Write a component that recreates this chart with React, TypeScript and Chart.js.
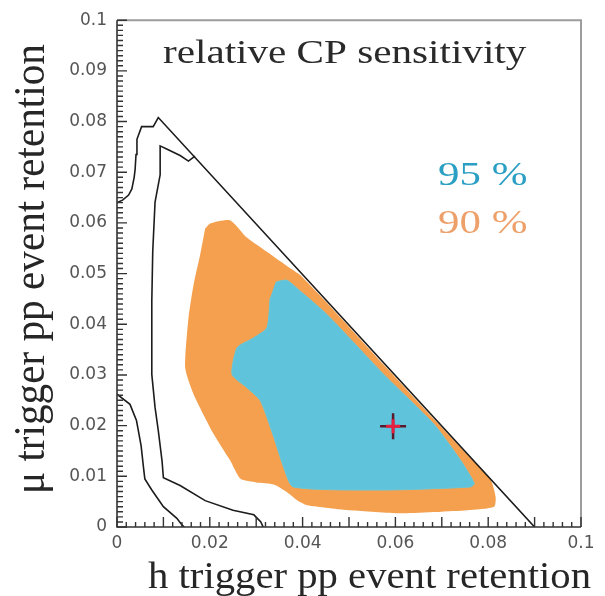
import React, { useEffect, useRef } from "react";
import { Chart, registerables } from "chart.js";

Chart.register(...registerables);

// Axis ticks and labels
const xTickValues = [0, 0.02, 0.04, 0.06, 0.08, 0.1];
const xTickLabels = ["0", "0.02", "0.04", "0.06", "0.08", "0.1"];
const yTickValues = [0, 0.01, 0.02, 0.03, 0.04, 0.05, 0.06, 0.07, 0.08, 0.09, 0.1];
const yTickLabels = ["0", "0.01", "0.02", "0.03", "0.04", "0.05", "0.06", "0.07", "0.08", "0.09", "0.1"];

// 90 % region (h retention, mu retention)
const region90: [number, number][] = [
  [0.019, 0.0589], [0.0201, 0.0599], [0.0244, 0.0605], [0.028, 0.0571], [0.0323, 0.0543],
  [0.0374, 0.051], [0.0395, 0.0497], [0.0474, 0.0421], [0.0575, 0.032], [0.0683, 0.0213],
  [0.0762, 0.0136], [0.0805, 0.0094], [0.0816, 0.0059], [0.0813, 0.004], [0.0755, 0.0033],
  [0.0611, 0.0027], [0.0503, 0.0033], [0.041, 0.0043], [0.0388, 0.0053], [0.0366, 0.0069],
  [0.0338, 0.0084], [0.03, 0.0088], [0.0266, 0.0095], [0.0244, 0.0131], [0.0208, 0.0184],
  [0.0165, 0.0262], [0.0147, 0.0314], [0.0154, 0.0412], [0.0165, 0.0478], [0.0179, 0.0536],
];

// 95 % region
const region95: [number, number][] = [
  [0.0341, 0.0481], [0.0345, 0.0484], [0.0366, 0.0487], [0.0388, 0.0471], [0.0453, 0.0419],
  [0.0575, 0.0301], [0.0683, 0.0203], [0.0741, 0.0131], [0.077, 0.0086], [0.0762, 0.0079],
  [0.0575, 0.0073], [0.038, 0.0079], [0.0359, 0.0118], [0.0338, 0.0177], [0.0309, 0.0249],
  [0.028, 0.0275], [0.0248, 0.0301], [0.0259, 0.0354], [0.0294, 0.0373], [0.0323, 0.0393],
  [0.033, 0.0452],
];

// Outer contour, ending on the x + y = 0.09 boundary
const outerContour: [number, number][] = [
  [0, 0.064], [0.0012, 0.0645], [0.0025, 0.0655], [0.0032, 0.0667], [0.0037, 0.069],
  [0.0039, 0.0705], [0.0041, 0.0735], [0.0043, 0.0765], [0.0053, 0.079], [0.0078, 0.079],
  [0.0089, 0.0808], [0.09, 0],
];

// Inner contour
const innerContour: [number, number][] = [
  [0.0168, 0.0732], [0.0154, 0.0722], [0.0136, 0.0733], [0.0107, 0.0746], [0.0093, 0.0752],
  [0.0093, 0.0695], [0.0082, 0.0641], [0.0077, 0.0543], [0.0075, 0.0445], [0.0075, 0.0301],
  [0.0082, 0.0236], [0.0089, 0.019], [0.0097, 0.0131], [0.01, 0.0097], [0.0136, 0.0082],
  [0.019, 0.0052], [0.025, 0.0033], [0.0295, 0.0024], [0.031, 0.001], [0.0315, 0],
];

// Lower contour
const lowerContour: [number, number][] = [
  [0, 0.0262], [0.0028, 0.0242], [0.0042, 0.021], [0.0052, 0.016], [0.0057, 0.0118],
  [0.006, 0.0095], [0.0075, 0.0073], [0.01, 0.004], [0.0129, 0.0017], [0.014, 0.0004],
  [0.0145, 0],
];

// Best point
const bestPoint: [number, number][] = [[0.0595, 0.0199]];

const toXY = (pts: [number, number][]) => pts.map(([x, y]) => ({ x, y }));

const SERIF = '"Liberation Serif", "DejaVu Serif", serif';

function drawLabel(
  ctx: CanvasRenderingContext2D,
  text: string,
  x: number,
  y: number,
  size: number,
  color: string,
  sx: number,
  sy = 1,
  rotate = 0
) {
  ctx.save();
  ctx.translate(x, y);
  if (rotate) ctx.rotate(rotate);
  ctx.scale(sx, sy);
  ctx.font = `${size}px ${SERIF}`;
  ctx.fillStyle = color;
  ctx.textAlign = "left";
  ctx.textBaseline = "alphabetic";
  ctx.fillText(text, 0, 0);
  ctx.restore();
}

const framePlugin = {
  id: "frame",
  afterDraw(chart: any) {
    const ctx: CanvasRenderingContext2D = chart.ctx;
    const a = chart.chartArea;
    const xs = chart.scales.x;
    const ys = chart.scales.y;
    ctx.save();
    // top and right edges
    ctx.strokeStyle = "#9c9c9c";
    ctx.lineWidth = 2;
    ctx.beginPath();
    ctx.moveTo(a.left, a.top);
    ctx.lineTo(a.right, a.top);
    ctx.lineTo(a.right, a.bottom);
    ctx.stroke();
    // axes
    ctx.strokeStyle = "#333";
    ctx.lineWidth = 1.6;
    ctx.beginPath();
    ctx.moveTo(a.left, a.top);
    ctx.lineTo(a.left, a.bottom);
    ctx.lineTo(a.right, a.bottom);
    ctx.stroke();
    // inward tick marks
    ctx.lineWidth = 1.4;
    ctx.beginPath();
    for (let i = 0; i <= 100; i++) {
      const py = ys.getPixelForValue(i / 1000);
      const len = i % 10 === 0 ? 10 : 6;
      ctx.moveTo(a.left, py);
      ctx.lineTo(a.left + len, py);
    }
    for (let i = 0; i <= 50; i++) {
      const px = xs.getPixelForValue(i / 500);
      const len = i % 5 === 0 ? 10 : 5;
      ctx.moveTo(px, a.bottom);
      ctx.lineTo(px, a.bottom - len);
    }
    ctx.stroke();
    ctx.restore();

    // titles and annotations
    drawLabel(ctx, "relative CP sensitivity", 163, 63, 34, "#2a2a2a", 1.21);
    drawLabel(ctx, "95 %", 438, 185, 33, "#2a9fc3", 1.3);
    drawLabel(ctx, "90 %", 438, 233, 33, "#eea06a", 1.3);
    drawLabel(ctx, "h trigger pp event retention", 148, 588, 37, "#262626", 1.1);
    drawLabel(ctx, "\u03bc trigger pp event retention", 44, 494, 40, "#262626", 1.03, 1.12, -Math.PI / 2);
  },
};

export default function App() {
  const canvasRef = useRef<HTMLCanvasElement | null>(null);

  useEffect(() => {
    const canvas = canvasRef.current;
    if (!canvas) return;
    const line = (data: [number, number][], order: number) => ({
      data: toXY(data),
      showLine: true,
      borderColor: "#1c1c1c",
      borderWidth: 1.6,
      pointRadius: 0,
      fill: false,
      tension: 0,
      order,
    });
    const chart = new Chart(canvas, {
      type: "scatter",
      data: {
        datasets: [
          {
            data: toXY(region90),
            showLine: true,
            borderWidth: 0,
            borderColor: "#f4a04e",
            backgroundColor: "#f4a04e",
            pointRadius: 0,
            fill: "shape",
            tension: 0.2,
            order: 7,
          },
          {
            data: toXY(region95),
            showLine: true,
            borderWidth: 1,
            borderColor: "#6cc6d8",
            backgroundColor: "#5fc3db",
            pointRadius: 0,
            fill: "shape",
            tension: 0.2,
            order: 6,
          },
          line(outerContour, 5),
          line(innerContour, 4),
          line(lowerContour, 3),
          {
            // dark arms of the marker
            data: toXY(bestPoint),
            pointStyle: "cross",
            pointRadius: 13,
            pointBorderWidth: 2.5,
            pointBorderColor: "#5a1a2c",
            borderColor: "#5a1a2c",
            showLine: false,
            order: 1,
          },
          {
            // red centre of the marker
            data: toXY(bestPoint),
            pointStyle: "cross",
            pointRadius: 7,
            pointBorderWidth: 3,
            pointBorderColor: "#e8203f",
            borderColor: "#e8203f",
            showLine: false,
            order: 0,
          },
        ],
      } as any,
      options: {
        responsive: false,
        animation: false,
        layout: { padding: { top: 18, right: 24, left: 0, bottom: 0 } },
        plugins: {
          legend: { display: false },
          tooltip: { enabled: false },
        },
        scales: {
          x: {
            type: "linear",
            min: 0,
            max: 0.1,
            grid: { display: false, drawTicks: false },
            border: { display: false },
            afterBuildTicks: (scale: any) => {
              scale.ticks = xTickValues.map((value) => ({ value }));
            },
            afterFit: (scale: any) => {
              scale.height = 69;
            },
            ticks: {
              autoSkip: false,
              maxRotation: 0,
              padding: 6,
              color: "#555",
              font: { family: '"DejaVu Sans", sans-serif', size: 17 },
              callback: (_v: any, i: number) => xTickLabels[i],
            },
          },
          y: {
            type: "linear",
            min: 0,
            max: 0.1,
            grid: { display: false, drawTicks: false },
            border: { display: false },
            afterBuildTicks: (scale: any) => {
              scale.ticks = yTickValues.map((value) => ({ value }));
            },
            afterFit: (scale: any) => {
              scale.width = 117;
            },
            ticks: {
              autoSkip: false,
              padding: 10,
              color: "#555",
              font: { family: '"DejaVu Sans", sans-serif', size: 17 },
              callback: (_v: any, i: number) => yTickLabels[i],
            },
          },
        },
      } as any,
      plugins: [framePlugin],
    });
    return () => chart.destroy();
  }, []);

  return (
    <div style={{ position: "fixed", left: 0, top: 0, width: 605, height: 596, background: "#fff" }}>
      <canvas ref={canvasRef} width={605} height={596} />
    </div>
  );
}
